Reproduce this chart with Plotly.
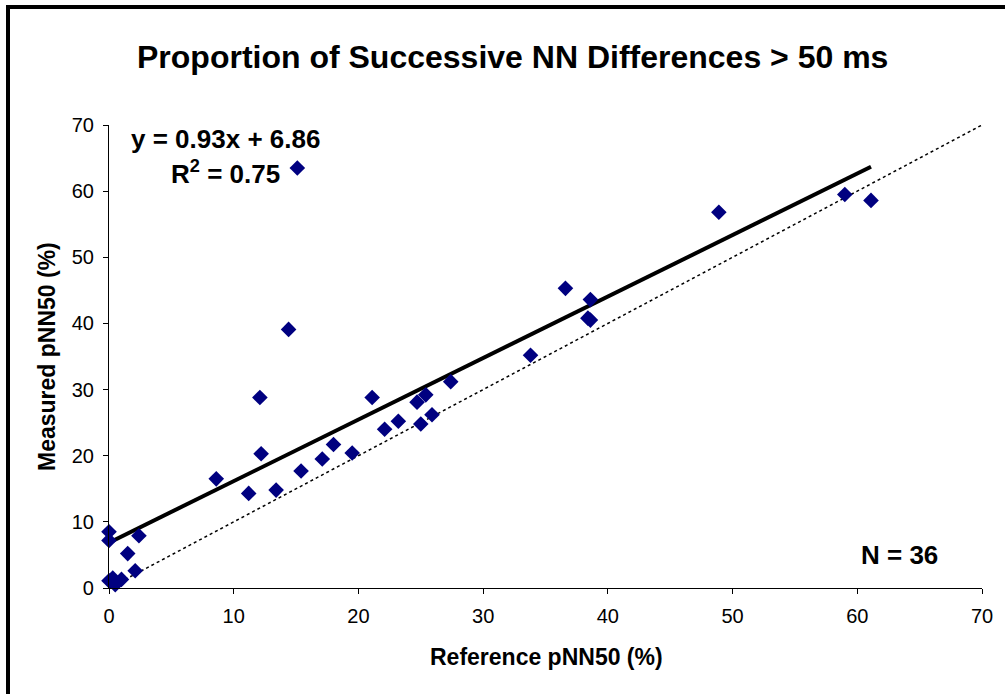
import plotly.graph_objects as go

# Data
reference_pnn50 = [0.0, 0.0, 0.0, 0.3, 0.5, 1.0, 1.5, 2.1, 2.4, 8.6, 11.2, 12.1, 12.2, 13.4,
                   14.4, 15.1, 15.4, 17.1, 18.0, 19.5, 21.1, 22.1, 23.2, 24.7, 25.0, 25.4,
                   25.9, 27.4, 33.8, 36.6, 38.4, 38.6, 38.6, 48.9, 59.0, 61.1]
measured_pnn50 = [8.5, 7.2, 1.1, 1.5, 0.5, 1.3, 5.2, 2.6, 7.9, 16.5, 14.3, 28.8, 20.3, 14.8,
                  39.1, 63.5, 17.7, 19.5, 21.7, 20.4, 28.8, 24.0, 25.2, 28.1, 24.8, 29.2,
                  26.2, 31.2, 35.2, 45.3, 40.8, 40.5, 43.6, 56.8, 59.5, 58.6]
fit_slope = 0.93
fit_intercept = 6.86
r_squared = 0.75
axis_max = 70
tick_values = [0, 10, 20, 30, 40, 50, 60, 70]

FONT = "Arial, 'Liberation Sans', sans-serif"

# Derived lines
fit_x = [0, max(reference_pnn50)]
fit_y = [fit_intercept + fit_slope * v for v in fit_x]
ident = [0, axis_max]

fig = go.Figure()
fig.add_trace(go.Scatter(x=ident, y=ident, mode="lines",
                         line=dict(color="black", width=1.5, dash="dot"),
                         hoverinfo="skip", showlegend=False, cliponaxis=False))
fig.add_trace(go.Scatter(x=fit_x, y=fit_y, mode="lines",
                         line=dict(color="black", width=4),
                         showlegend=False, cliponaxis=False))
fig.add_trace(go.Scatter(x=reference_pnn50, y=measured_pnn50, mode="markers",
                         marker=dict(symbol="diamond", size=12, color="#000080",
                                     line=dict(width=0)),
                         showlegend=False, cliponaxis=False))

W, H = 1005, 694
# plot area in page pixels: x 109..982, y 125..588
L, T = 109, 125
R = W - 982
B = H - 588
pw, ph = W - L - R, H - T - B


def px(x):  # page pixel -> paper
    return (x - L) / pw


def py(y):
    return (H - B - y) / ph


axis_common = dict(range=[0, axis_max], tickvals=tick_values, showgrid=False,
                   zeroline=False, showline=True, linecolor="black", linewidth=1.2,
                   ticks="outside", ticklen=5, tickcolor="black", tickwidth=1,
                   tickfont=dict(family=FONT, size=20, color="black"))

fig.update_layout(
    width=W, height=H,
    margin=dict(l=L, r=R, t=T, b=B, autoexpand=False),
    paper_bgcolor="white", plot_bgcolor="white",
    xaxis=dict(**axis_common, ticklabelstandoff=5),
    yaxis=dict(**axis_common, ticklabelstandoff=5),
    font=dict(family=FONT, color="black"),
    shapes=[
        dict(type="line", xref="paper", yref="paper", x0=px(8), x1=px(8),
             y0=py(H + 10), y1=py(5), line=dict(color="black", width=4)),
        dict(type="line", xref="paper", yref="paper", x0=px(6), x1=px(W + 10),
             y0=py(7), y1=py(7), line=dict(color="black", width=4)),
    ],
    annotations=[
        dict(text="<b>Proportion of Successive NN Differences &gt; 50 ms</b>",
             x=px(512), y=py(57), xref="paper", yref="paper", showarrow=False,
             xanchor="center", yanchor="middle", font=dict(size=32, family=FONT)),
        dict(text="<b>Measured pNN50 (%)</b>", x=px(47), y=py(357), xref="paper",
             yref="paper", showarrow=False, textangle=-90, xanchor="center",
             yanchor="middle", font=dict(size=23, family=FONT)),
        dict(text="<b>Reference pNN50 (%)</b>", x=px(546), y=py(657), xref="paper",
             yref="paper", showarrow=False, xanchor="center", yanchor="middle",
             font=dict(size=23, family=FONT)),
        dict(text=f"<b>y = {fit_slope:.2f}x + {fit_intercept:.2f}</b>", x=px(225), y=py(139),
             xref="paper", yref="paper", showarrow=False, xanchor="center",
             yanchor="middle", font=dict(size=26, family=FONT)),
        dict(text=f"<b>R<sup>2</sup> = {r_squared:.2f}</b>", x=px(225), y=py(172),
             xref="paper", yref="paper", showarrow=False, xanchor="center",
             yanchor="middle", font=dict(size=26, family=FONT)),
        dict(text=f"<b>N = {len(reference_pnn50)}</b>", x=px(899), y=py(555),
             xref="paper", yref="paper", showarrow=False, xanchor="center",
             yanchor="middle", font=dict(size=26, family=FONT)),
    ],
)

fig.write_html("out.html",
               config={"displayModeBar": False},
               post_script="document.body.style.margin='0';"
                           "document.body.style.overflow='hidden';")
